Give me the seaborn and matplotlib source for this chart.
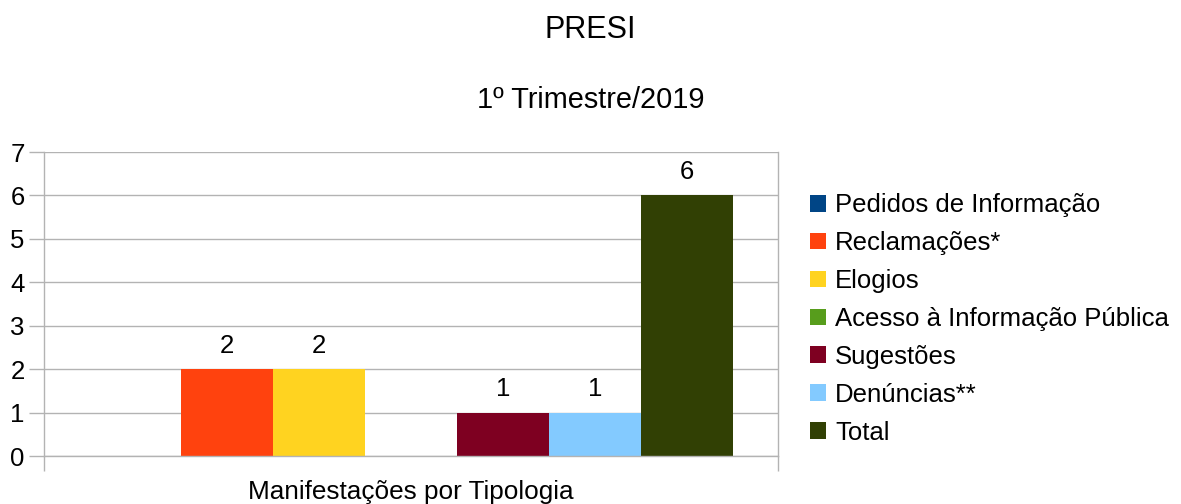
import matplotlib
matplotlib.use("Agg")
import matplotlib.pyplot as plt
import seaborn as sns
import pandas as pd
from matplotlib.patches import Patch

categories = ["Manifestações por Tipologia"]
series = ["Pedidos de Informação", "Reclamações*", "Elogios",
          "Acesso à Informação Pública", "Sugestões", "Denúncias**", "Total"]
values = [0, 2, 2, 0, 1, 1, 6]
colors = ["#004586", "#ff420e", "#ffd320", "#579d1c", "#7e0021", "#83caff", "#314004"]
yticks = [0, 1, 2, 3, 4, 5, 6, 7]

sns.set_theme(style="white")
plt.rcParams["font.family"] = ["Liberation Sans", "DejaVu Sans"]
plt.rcParams["text.color"] = "black"

df = pd.DataFrame({"cat": categories * len(series), "series": series, "val": values})

W, H = 1181, 504
fig = plt.figure(figsize=(W / 100, H / 100), dpi=100)
ax = fig.add_axes([44 / W, (H - 456) / H, 734 / W, 304 / H])

sns.barplot(data=df, x="cat", y="val", hue="series", hue_order=series,
            palette=colors, saturation=1, width=0.877, ax=ax, legend=False,
            linewidth=0, errorbar=None)

ax.set_xlim(-0.5, 0.5)
ax.set_ylim(0, 7)
ax.set_yticks(yticks)
ax.set_yticklabels([str(v) for v in yticks], fontsize=18.5)
ax.set_xticks([-0.5, 0.5])
ax.set_xticklabels(["", ""])
ax.set_xlabel(categories[0], fontsize=18.8, color="black", va="center")
ax.xaxis.set_label_coords(0.5, (456 - 492) / 304)
ax.set_ylabel("")
ax.grid(axis="y", color="#b3b3b3", linewidth=1)
ax.set_axisbelow(True)
for s in ax.spines.values():
    s.set_color("#b3b3b3")
    s.set_linewidth(1)
ax.spines["top"].set_visible(False)
ax.tick_params(axis="y", length=11, width=1, color="#b3b3b3", pad=3, labelcolor="black", left=True)
ax.tick_params(axis="x", length=11, width=1, color="#b3b3b3", bottom=True)

for cont, v in zip(ax.containers, values):
    if v > 0:
        ax.bar_label(cont, labels=[str(v)], padding=8, fontsize=18.5, color="black")

handles = [Patch(facecolor=c, edgecolor="none") for c in colors]
fig.legend(handles, series, loc="upper left", bbox_to_anchor=(800 / W, 1 - 183 / H),
           frameon=False, fontsize=18.5, handlelength=0.62, handleheight=0.62,
           handletextpad=0.35, labelspacing=0.54, borderaxespad=0)

fig.text(590 / W, 1 - 30 / H, "PRESI", ha="center", va="center", fontsize=22)
fig.text(591 / W, 1 - 100 / H, "1º Trimestre/2019", ha="center", va="center", fontsize=20.8)

fig.savefig("out.png", dpi=100)
